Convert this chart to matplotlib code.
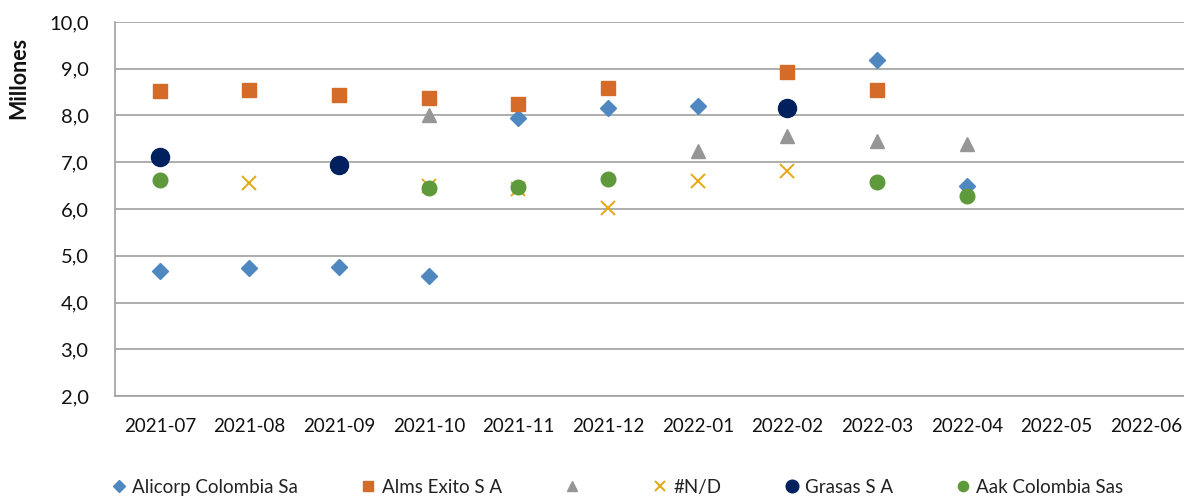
import numpy as np
import matplotlib
matplotlib.use("Agg")
import matplotlib.pyplot as plt
from matplotlib.ticker import FuncFormatter

months = ["2021-07", "2021-08", "2021-09", "2021-10", "2021-11", "2021-12",
          "2022-01", "2022-02", "2022-03", "2022-04", "2022-05", "2022-06"]
nan = np.nan
alicorp = [4.68, 4.74, 4.76, 4.57, 7.95, 8.16, 8.20, nan, 9.18, 6.50, nan, nan]
alms_exito = [8.52, 8.54, 8.43, 8.37, 8.24, 8.58, nan, 8.92, 8.54, nan, nan, nan]
blank = [nan, nan, nan, 8.00, nan, nan, 7.23, 7.57, 7.45, 7.38, nan, nan]
nd = [nan, 6.55, nan, 6.50, 6.42, 6.02, 6.60, 6.81, nan, nan, nan, nan]
grasas = [7.12, nan, 6.94, nan, nan, nan, nan, 8.16, nan, nan, nan, nan]
aak = [6.63, nan, nan, 6.45, 6.47, 6.65, nan, nan, 6.57, 6.27, nan, nan]

series_names = ["Alicorp Colombia Sa", "Alms Exito S A", " ", "#N/D", "Grasas S A", "Aak Colombia Sas"]

plt.rcParams['font.family'] = ['Lato', 'DejaVu Sans']

fig = plt.figure(figsize=(11.84, 4.98), dpi=100)
ax = fig.add_axes([115/1184, 102/498, 1076/1184, 374/498])

x = np.arange(len(months))
h = []
h.append(ax.plot(x, alicorp, linestyle='none', marker='D', markersize=8.2, color='#4F88C0', label=series_names[0])[0])
h.append(ax.plot(x, alms_exito, linestyle='none', marker='s', markersize=10, color='#D46B29', label=series_names[1])[0])
h.append(ax.plot(x, blank, linestyle='none', marker='^', markersize=10, color='#969696', label=series_names[2])[0])
h.append(ax.plot(x, nd, linestyle='none', marker='x', markersize=9.5, markeredgewidth=1.4, color='#E5A812', label=series_names[3])[0])
h.append(ax.plot(x, grasas, linestyle='none', marker='o', markersize=13, color='#00215E', label=series_names[4])[0])
h.append(ax.plot(x, aak, linestyle='none', marker='o', markersize=10.5, color='#5E9A3C', label=series_names[5])[0])

ax.set_xlim(-0.5, len(months) - 0.5)
ax.set_ylim(2.0, 10.0)
ax.set_yticks(np.arange(2, 10.01, 1.0))
ax.yaxis.set_major_formatter(FuncFormatter(lambda v, p: f"{v:.1f}".replace('.', ',')))
ax.set_xticks(x)
ax.set_xticklabels(months)

ax.grid(axis='y', color='#A0A0A0', linewidth=1.2)
ax.set_axisbelow(True)
for s in ['top', 'right']:
    ax.spines[s].set_visible(False)
for s in ['left', 'bottom']:
    ax.spines[s].set_color('#A0A0A0')
    ax.spines[s].set_linewidth(1.2)

ax.tick_params(axis='y', length=0, pad=19, labelsize=14.5, labelcolor='#111111')
ax.tick_params(axis='x', length=0, pad=16, labelsize=13.5, labelcolor='#111111')

ax.set_ylabel("Millones", fontsize=15.5, fontweight='bold', color='#111111')
ax.yaxis.set_label_coords(-0.0795, 0.85)

leg = fig.legend(handles=h, labels=series_names, loc='center', bbox_to_anchor=(0.522, 0.022),
                 ncol=6, frameon=False, fontsize=13.5, handlelength=0.7, handletextpad=0.35,
                 columnspacing=3.4, markerscale=0.7)
for t in leg.get_texts():
    t.set_color('#222222')

fig.savefig("out.png", dpi=100)
